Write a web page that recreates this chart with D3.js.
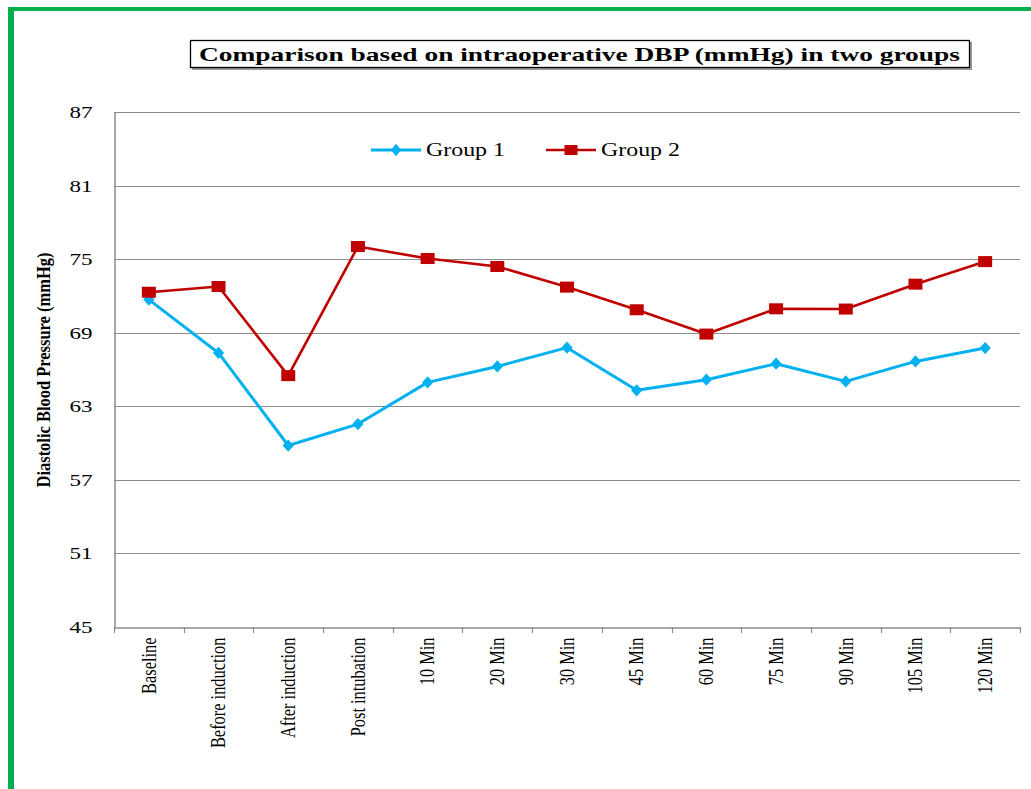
<!DOCTYPE html>
<html>
<head>
<meta charset="utf-8">
<script src="https://cdn.jsdelivr.net/npm/d3@7"></script>
<style>
  html, body { margin: 0; padding: 0; background: #fff; }
  svg { display: block; }
  text { font-family: "Liberation Serif", "Times New Roman", serif; fill: #000; }
</style>
</head>
<body>
<svg id="chart" width="1031" height="789"></svg>
<script>
const categories = ["Baseline", "Before induction", "After induction", "Post intubation",
  "10 Min", "20 Min", "30 Min", "45 Min", "60 Min", "75 Min", "90 Min", "105 Min", "120 Min"];
const group1 = [71.7, 67.35, 59.8, 61.55, 64.95, 66.25, 67.78, 64.3, 65.17, 66.47, 65.03, 66.66, 67.75];
const group2 = [72.3, 72.77, 65.5, 76.03, 75.05, 74.4, 72.72, 70.87, 68.89, 70.95, 70.93, 72.96, 74.8];
const seriesNames = ["Group 1", "Group 2"];
const yTicks = [45, 51, 57, 63, 69, 75, 81, 87];
const titleText = "Comparison based on intraoperative DBP (mmHg) in two groups";
const yLabel = "Diastolic Blood Pressure (mmHg)";

const svg = d3.select("#chart");
const blue = "#00b0f0", red = "#c00000", grid = "#8c8c8c", green = "#00b050";

// page frame (green border)
svg.append("line").attr("x1", 11).attr("x2", 11).attr("y1", 7).attr("y2", 789)
  .attr("stroke", green).attr("stroke-width", 6);
svg.append("line").attr("x1", 8).attr("x2", 1031).attr("y1", 9).attr("y2", 9)
  .attr("stroke", green).attr("stroke-width", 4);

const pLeft = 114, pRight = 1020, pTop = 112, pBottom = 627;
const x = d3.scaleBand().domain(categories).range([pLeft, pRight]);
const y = d3.scaleLinear().domain([45, 87]).range([pBottom, pTop]);

// gridlines
svg.append("g").selectAll("line").data(yTicks.filter(d => d !== 45)).join("line")
  .attr("x1", pLeft).attr("x2", pRight)
  .attr("y1", d => Math.round(y(d)) + 0.5).attr("y2", d => Math.round(y(d)) + 0.5)
  .attr("stroke", grid).attr("stroke-width", 1);

// y axis
const yAxis = svg.append("g").attr("transform", `translate(${pLeft + 0.5},0)`)
  .call(d3.axisLeft(y).tickValues(yTicks).tickSize(0).tickPadding(22).tickFormat(d3.format("d")));
yAxis.select(".domain").attr("stroke", grid).attr("stroke-width", 1.5);
yAxis.selectAll("text").style("font-size", "17px").attr("textLength", 23)
  .attr("lengthAdjust", "spacingAndGlyphs").attr("dy", "0.32em");

// x axis
const xAxis = svg.append("g").attr("transform", `translate(0,${pBottom + 0.5})`)
  .call(d3.axisBottom(x).tickSize(0).tickFormat(d => d));
xAxis.select(".domain").attr("stroke", grid).attr("stroke-width", 1.5);
// boundary tick marks
const bounds = categories.map(c => x(c)).concat([pRight]);
svg.append("g").selectAll("line").data(bounds).join("line")
  .attr("x1", d => Math.round(d) + 0.5).attr("x2", d => Math.round(d) + 0.5)
  .attr("y1", pBottom).attr("y2", pBottom + 6)
  .attr("stroke", grid).attr("stroke-width", 1.2);
xAxis.selectAll(".tick text")
  .attr("transform", "scale(1.25,1) rotate(-90)")
  .attr("x", -10).attr("y", 0).attr("dy", "0.33em")
  .style("text-anchor", "end").style("font-size", "16.4px");

// y label
svg.append("text")
  .attr("transform", "translate(50,370) scale(1.1,1) rotate(-90)")
  .attr("text-anchor", "middle")
  .style("font-size", "18px").style("font-weight", "bold")
  .attr("textLength", 235).attr("lengthAdjust", "spacingAndGlyphs")
  .text(yLabel);

// title box
svg.append("rect").attr("x", 192).attr("y", 42).attr("width", 780).attr("height", 28)
  .attr("fill", "#9a9a9a");
svg.append("rect").attr("x", 190.5).attr("y", 40.5).attr("width", 779).attr("height", 27)
  .attr("fill", "#fff").attr("stroke", "#000").attr("stroke-width", 1.3);
svg.append("text").attr("x", 199).attr("y", 61)
  .style("font-size", "19px").style("font-weight", "bold")
  .attr("textLength", 761).attr("lengthAdjust", "spacingAndGlyphs")
  .text(titleText);

// lines
const cx = c => x(c) + x.bandwidth() / 2;
const line = d3.line().x(d => cx(d.c)).y(d => y(d.v));
const d1 = categories.map((c, i) => ({ c, v: group1[i] }));
const d2 = categories.map((c, i) => ({ c, v: group2[i] }));

svg.append("path").datum(d1).attr("d", line).attr("fill", "none")
  .attr("stroke", blue).attr("stroke-width", 3).attr("stroke-linejoin", "round");
svg.append("path").datum(d2).attr("d", line).attr("fill", "none")
  .attr("stroke", red).attr("stroke-width", 2.6).attr("stroke-linejoin", "round");

const diamond = d3.symbol().type(d3.symbolDiamond).size(60)();
svg.append("g").selectAll("path").data(d1).join("path")
  .attr("d", diamond)
  .attr("transform", d => `translate(${cx(d.c)},${y(d.v)}) scale(1.35,0.85)`)
  .attr("fill", blue);
svg.append("g").selectAll("rect").data(d2).join("rect")
  .attr("x", d => cx(d.c) - 7).attr("y", d => y(d.v) - 5.5)
  .attr("width", 14).attr("height", 11).attr("fill", red);

// legend
const legend = [
  { name: seriesNames[0], color: blue, x0: 371, shape: "diamond", w: 3 },
  { name: seriesNames[1], color: red, x0: 546, shape: "square", w: 2.6 }
];
const lg = svg.append("g").selectAll("g").data(legend).join("g");
lg.append("line").attr("x1", d => d.x0).attr("x2", d => d.x0 + 50)
  .attr("y1", 150).attr("y2", 150).attr("stroke", d => d.color).attr("stroke-width", d => d.w);
lg.filter(d => d.shape === "diamond").append("path").attr("d", diamond)
  .attr("transform", d => `translate(${d.x0 + 25},150) scale(1.2,0.85)`).attr("fill", d => d.color);
lg.filter(d => d.shape === "square").append("rect")
  .attr("x", d => d.x0 + 25 - 6.5).attr("y", 145).attr("width", 13).attr("height", 10).attr("fill", d => d.color);
lg.append("text").attr("x", d => d.x0 + 55).attr("y", 156)
  .style("font-size", "18px")
  .attr("textLength", 79).attr("lengthAdjust", "spacingAndGlyphs")
  .text(d => d.name);
</script>
</body>
</html>
